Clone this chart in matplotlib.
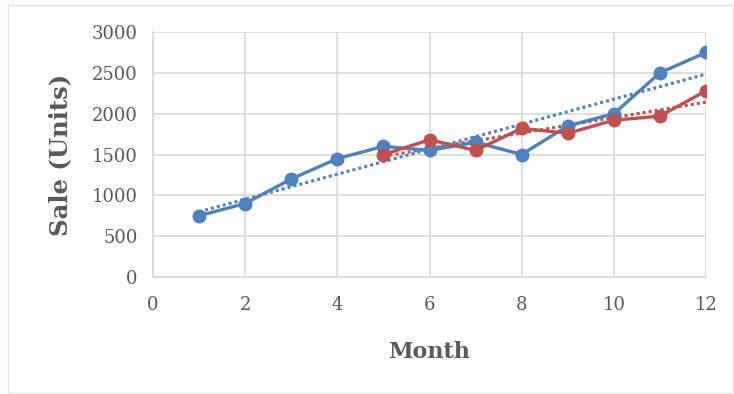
import numpy as np
import matplotlib
matplotlib.use("Agg")
import matplotlib.pyplot as plt
from matplotlib.patches import Rectangle

# Monthly unit sales for two series
months_a = [1, 2, 3, 4, 5, 6, 7, 8, 9, 10, 11, 12]
sales_a = [750, 900, 1200, 1450, 1600, 1550, 1650, 1500, 1850, 2000, 2500, 2750]
months_b = [5, 6, 7, 8, 9, 10, 11, 12]
sales_b = [1500, 1680, 1550, 1820, 1760, 1920, 1970, 2280]

x_ticks = [0, 2, 4, 6, 8, 10, 12]
y_ticks = [0, 500, 1000, 1500, 2000, 2500, 3000]

blue = "#4F81BD"
red = "#C0504D"
grid_c = "#D9D9D9"
text_c = "#595959"

fig = plt.figure(figsize=(7.34, 3.94), dpi=100)
fig.patch.set_facecolor("white")
fig.patches.append(Rectangle((8 / 734, 1 / 394), 725 / 734, 388 / 394,
                             transform=fig.transFigure, fill=False,
                             edgecolor="#E3E3E3", linewidth=1.0))

ax = fig.add_axes([153 / 734, 1 - 277 / 394, (706 - 153) / 734, (277 - 32) / 394])
ax.set_xlim(0, 12)
ax.set_ylim(0, 3000)
ax.set_xticks(x_ticks)
ax.set_yticks(y_ticks)
ax.grid(True, color=grid_c, linewidth=1.2)
ax.set_axisbelow(True)
for s in ax.spines.values():
    s.set_visible(False)
for side in ("left", "bottom"):
    ax.spines[side].set_visible(True)
    ax.spines[side].set_color(grid_c)
    ax.spines[side].set_linewidth(1.2)
ax.tick_params(length=0, labelsize=13, labelcolor=text_c)
ax.tick_params(axis="x", pad=14)
ax.tick_params(axis="y", pad=11)
for lab in ax.get_xticklabels() + ax.get_yticklabels():
    lab.set_fontfamily("DejaVu Serif")

# Linear trend lines
for mx, sy, c in [(months_a, sales_a, blue), (months_b, sales_b, red)]:
    k, b = np.polyfit(mx, sy, 1)
    xs = np.array([mx[0], mx[-1]])
    ax.plot(xs, k * xs + b, linestyle=(0, (1, 1)), color=c, linewidth=2.2)

ax.plot(months_a, sales_a, color=blue, linewidth=2.4, marker="o", markersize=9)
ax.plot(months_b, sales_b, color=red, linewidth=2.4, marker="o", markersize=9)

ax.set_xlabel("Month", fontfamily="DejaVu Serif", fontweight="bold",
              fontsize=16, color=text_c, labelpad=19)
ax.set_ylabel("Sale (Units)", fontfamily="DejaVu Serif", fontweight="bold",
              fontsize=17.5, color=text_c, labelpad=14)

fig.savefig("out.png", dpi=100)
